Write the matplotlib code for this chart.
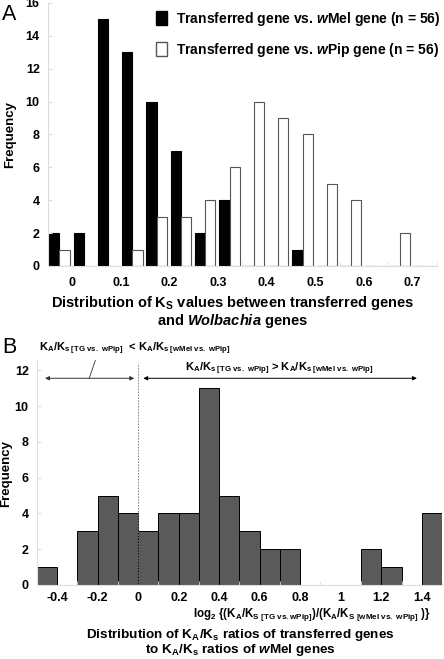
import matplotlib
matplotlib.use('Agg')
import matplotlib.pyplot as plt
from matplotlib.patches import Patch

#fonts
plt.rcParams['font.family'] = ['Liberation Sans', 'DejaVu Sans']
plt.rcParams['font.weight'] = 'bold'
plt.rcParams['mathtext.fontset'] = 'custom'
plt.rcParams['mathtext.rm'] = 'Liberation Sans:bold'
plt.rcParams['mathtext.bf'] = 'Liberation Sans:bold'
plt.rcParams['mathtext.it'] = 'Liberation Sans:italic:bold'
plt.rcParams['mathtext.bfit'] = 'Liberation Sans:italic:bold'

#data panel A (Ks distribution, bin lower edges)
ks_bins = [-0.05, 0.0, 0.05, 0.1, 0.15, 0.2, 0.25, 0.3, 0.35, 0.4, 0.45, 0.5, 0.55, 0.6, 0.65, 0.7]
wmel_counts = [2, 2, 15, 13, 10, 7, 2, 4, 0, 0, 1, 0, 0, 0, 0, 0]
wpip_counts = [1, 0, 0, 1, 3, 3, 4, 6, 10, 9, 8, 5, 4, 0, 2, 0]
a_ticks = [0, 0.1, 0.2, 0.3, 0.4, 0.5, 0.6, 0.7]
a_ticklabels = ['0', '0.1', '0.2', '0.3', '0.4', '0.5', '0.6', '0.7']

#data panel B (log2 ratio distribution, bin lower edges)
ratio_bins = [-0.5, -0.4, -0.3, -0.2, -0.1, 0.0, 0.1, 0.2, 0.3, 0.4, 0.5, 0.6, 0.7, 0.8, 0.9, 1.0, 1.1, 1.2, 1.3, 1.4]
ratio_counts = [1, 0, 3, 5, 4, 3, 4, 4, 11, 5, 3, 2, 2, 0, 0, 0, 2, 1, 0, 4]
b_ticks = [-0.4, -0.2, 0, 0.2, 0.4, 0.6, 0.8, 1.0, 1.2, 1.4]
b_ticklabels = ['-0.4', '-0.2', '0', '0.2', '0.4', '0.6', '0.8', '1', '1.2', '1.4']

fig = plt.figure(figsize=(4.44, 6.59), dpi=100)
spine_col = '#dddddd'
tick_fs = 9

def style_axes(ax):
    for s in ['top', 'right']:
        ax.spines[s].set_visible(False)
    for s in ['left', 'bottom']:
        ax.spines[s].set_color(spine_col)
        ax.spines[s].set_linewidth(0.8)
    ax.tick_params(axis='both', which='both', direction='in', color=spine_col, length=3, labelsize=tick_fs)
    for lab in ax.get_xticklabels() + ax.get_yticklabels():
        lab.set_fontweight('bold')

#panel A
axA = fig.add_axes([0.1081, 0.5964, 0.876, 0.3991])
bw = 0.021
axA.bar([b + 0.0025 for b in ks_bins], wmel_counts, width=bw, align='edge',
        color='black', edgecolor='black', linewidth=0.8)
axA.bar([b + 0.0235 for b in ks_bins], wpip_counts, width=bw, align='edge',
        color='white', edgecolor='#555555', linewidth=0.8)
axA.set_xlim(-0.05, 0.733)
axA.set_ylim(0, 16)
axA.set_yticks(range(0, 17, 2))
axA.set_xticks(a_ticks)
axA.set_xticklabels(a_ticklabels)
axA.set_xticks([b for b in ks_bins] + [0.75], minor=True)
style_axes(axA)
axA.tick_params(axis='x', which='major', length=0, pad=8)
axA.tick_params(axis='y', pad=6)
axA.set_ylabel('Frequency', fontsize=9.5, fontweight='bold', labelpad=7)
axA.set_xlabel('Distribution of K$_\\mathbf{S}$ values between transferred genes\n'
               'and $\\mathbfit{Wolbachia}$ genes', fontsize=10.5, fontweight='bold',
               linespacing=1.0)
axA.xaxis.set_label_coords(0.4756, -0.105, transform=axA.transAxes)
axA.xaxis.label.set_va('top')
handles = [Patch(facecolor='black', edgecolor='black'),
           Patch(facecolor='white', edgecolor='#555555')]
labels = ['Transferred gene vs. $\\mathbfit{w}$Mel gene (n = 56)',
          'Transferred gene vs. $\\mathbfit{w}$Pip gene (n = 56)']
axA.legend(handles, labels, loc='upper left', bbox_to_anchor=(0.278, 0.975), frameon=False,
           fontsize=10, handlelength=0.8, handleheight=1.15, handletextpad=0.65,
           labelspacing=0.95, borderpad=0, borderaxespad=0)
fig.text(0.005, 0.978, 'A', fontsize=15.5, fontweight='normal', va='center')

#panel B
axB = fig.add_axes([0.0833, 0.1123, 0.9122, 0.3395])
axB.bar(ratio_bins, ratio_counts, width=0.1, align='edge',
        color='#5a5a5a', edgecolor='black', linewidth=0.7)
axB.set_xlim(-0.5, 1.5)
axB.set_ylim(0, 12.5)
axB.set_yticks(range(0, 13, 2))
axB.set_xticks(b_ticks)
axB.set_xticklabels(b_ticklabels)
axB.set_xticks(ratio_bins + [1.5], minor=True)
style_axes(axB)
axB.tick_params(axis='x', which='major', length=0, pad=5)
axB.tick_params(axis='y', pad=6)
axB.set_ylabel('Frequency', fontsize=9.5, fontweight='bold', labelpad=2)
axB.vlines(0, 0, 12.4, colors='#777777', linestyles=(0, (2, 1.5)), linewidth=0.6)

#arrows
axB.annotate('', xy=(-0.46, 11.55), xytext=(-0.02, 11.55),
             arrowprops=dict(arrowstyle='<|-|>', color='#333333', lw=0.7,
                             mutation_scale=6, shrinkA=0, shrinkB=0))
axB.annotate('', xy=(0.025, 11.55), xytext=(1.376, 11.55),
             arrowprops=dict(arrowstyle='<|-|>', color='black', lw=0.7,
                             mutation_scale=6, shrinkA=0, shrinkB=0))
axB.plot([-0.212, -0.242], [12.55, 11.55], color='#333333', lw=0.6, clip_on=False)
axB.text(-0.49, 13.2, '$\\mathbf{K_A/K_{s\\ [TG\\ vs.\\ wPip]}}$  < K$_\\mathbf{A}$/K$_\\mathbf{s\\ [wMel\\ vs.\\ wPip]}$',
         fontsize=8, ha='left', va='center', clip_on=False)
axB.text(0.696, 12.1, '$\\mathbf{K_A/K_{s\\ [TG\\ vs.\\ wPip]}}$ > K$_\\mathbf{A}$/K$_\\mathbf{s\\ [wMel\\ vs.\\ wPip]}$',
         fontsize=8, ha='center', va='center', clip_on=False)

fig.text(0.7016, 0.068, 'log$_\\mathbf{2}$ {(K$_\\mathbf{A}$/K$_\\mathbf{S\\ [TG\\ vs.wPip]}$)/(K$_\\mathbf{A}$/K$_\\mathbf{S\\ [wMel\\ vs.\\ wPip]}$ )}',
         fontsize=8.3, ha='center', va='center')
fig.text(0.541, 0.037, 'Distribution of K$_\\mathbf{A}$/K$_\\mathbf{s}$ ratios of transferred genes',
         fontsize=9.7, ha='center', va='center')
fig.text(0.542, 0.013, 'to K$_\\mathbf{A}$/K$_\\mathbf{s}$ ratios of $\\mathbfit{w}$Mel genes',
         fontsize=9.7, ha='center', va='center')
fig.text(0.005, 0.473, 'B', fontsize=15.5, fontweight='normal', va='center')

fig.savefig('out.png', dpi=100)
